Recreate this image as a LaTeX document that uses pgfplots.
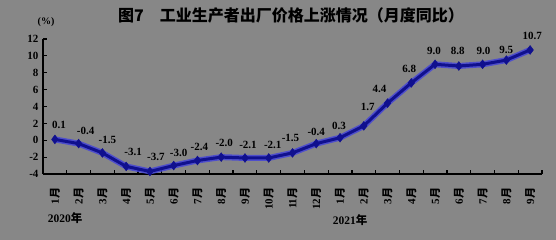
\documentclass[border=0pt]{standalone}
\usepackage{pgfplots}
\pgfplotsset{compat=1.18}
\usepackage{pgfplotstable}
\usepackage{fontspec}
\setmainfont{Liberation Serif}
\newfontfamily\cjk{Noto Sans CJK SC}
\definecolor{bg}{HTML}{878787}
\definecolor{lineblue}{HTML}{10108E}
\definecolor{glow}{HTML}{4545D8}

\pgfplotstableread{
x y dx dy
0 0.1 4 14
1 -0.4 7 13
2 -1.5 5 13
3 -3.1 7 14
4 -3.7 6 15
5 -3.0 5 13
6 -2.4 2 14
7 -2.0 3 14
8 -2.1 3 13
9 -2.1 4 13
10 -1.5 -2 15
11 -0.4 0 12
12 0.3 -1 12
13 1.7 4 19
14 4.4 -8 14
15 6.8 -2 14
16 9.0 -1 13
17 8.8 -1 15
18 9.0 1 13
19 9.5 0 10
20 10.7 2 14
}\data

\newcommand{\mo}[1]{\textbf{#1}{\cjk\bfseries 月}}

\begin{document}
\begin{tikzpicture}[x=1pt,y=1pt]
\fill[bg] (0,0) rectangle (556,240);
\useasboundingbox (0,0) rectangle (556,240);
\begin{axis}[
  at={(43pt,66pt)}, anchor=south west, scale only axis,
  width=499pt, height=135pt,
  xmin=-0.5, xmax=20.5, ymin=-4, ymax=12,
  axis x line*=bottom, axis y line*=left,
  axis line style={black, line width=1.8pt, -},
  tick align=inside,
  major tick length=4pt,
  tick style={black, line width=1.2pt},
  ytick={-4,-2,...,12},
  yticklabel style={font=\bfseries\fontsize{11}{11}\selectfont, xshift=-1pt},
  /pgf/number format/assume math mode=true,
  xtick={-0.5,0.5,...,20.5},
  xticklabels={},
  extra x ticks={0,...,20},
  extra x tick labels={\mo{1},\mo{2},\mo{3},\mo{4},\mo{5},\mo{6},\mo{7},\mo{8},\mo{9},\mo{10},\mo{11},\mo{12},\mo{1},\mo{2},\mo{3},\mo{4},\mo{5},\mo{6},\mo{7},\mo{8},\mo{9}},
  extra x tick style={major tick length=0pt, tick label style={yshift=-10pt, rotate=90, anchor=east, font=\fontsize{11}{11}\selectfont}},
  clip=false,
]
\addplot[glow, line width=6pt, opacity=0.85, no marks] table[x=x,y=y]{\data};
\addplot[lineblue, line width=3pt, mark=diamond*, mark size=4.4pt,
  mark options={solid, fill=lineblue, draw=lineblue, line width=0.5pt},
  nodes near coords, point meta=explicit symbolic,
  visualization depends on={\thisrow{dx} \as \dx},
  visualization depends on={\thisrow{dy} \as \dy},
  every node near coord/.append style={font=\bfseries\fontsize{11}{11}\selectfont, text=black, anchor=center, xshift=\dx pt, yshift=\dy pt, inner sep=0pt}]
  table[x=x,y=y,meta=y]{\data};
\end{axis}
\node[font=\cjk\bfseries\fontsize{16}{16}\selectfont] at (291,225) {图7　工业生产者出厂价格上涨情况（月度同比）};
\node[font=\bfseries\fontsize{10}{10}\selectfont] at (46,218) {(\%)};
\node[font=\fontsize{11.5}{11.5}\selectfont] at (65,22) {\textbf{2020}{\cjk\bfseries 年}};
\node[font=\fontsize{11.5}{11.5}\selectfont] at (350,20) {\textbf{2021}{\cjk\bfseries 年}};
\end{tikzpicture}
\end{document}
